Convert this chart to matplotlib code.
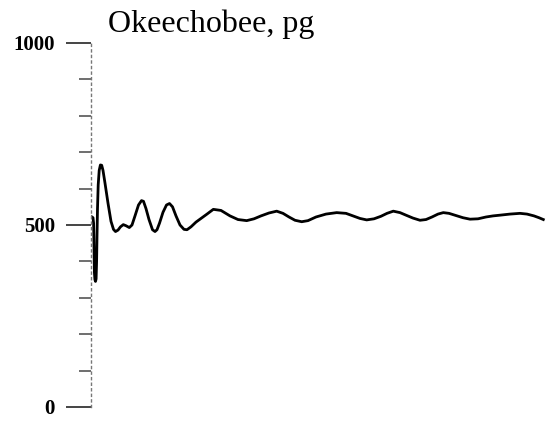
import matplotlib
import matplotlib.pyplot as plt
from matplotlib.ticker import MultipleLocator

matplotlib.use("Agg")

# time axis is unlabeled in the original
t = [1.0, 2.0, 2.6, 3.0, 3.4, 3.9, 4.5, 5.1, 5.6, 6.0, 6.5, 7.2, 8.2, 9.4, 10.7,
     12.0, 14.0, 17.0, 20.0, 22.5, 24.5, 27.0, 29.5, 32.3, 35.0, 38.3, 41.0,
     44.0, 47.5, 50.5, 52.5, 55.0, 58.0, 61.5, 64.0, 66.0, 68.5, 72.0, 75.5,
     78.5, 81.5, 85.0, 89.0, 93.0, 96.0, 100.0, 105.0, 110.0, 116.0, 122.3,
     130.0, 139.0, 147.0, 155.7, 163.0, 170.0, 178.0, 185.7, 192.0, 198.0,
     204.0, 210.7, 217.0, 225.0, 235.0, 245.7, 255.0, 262.0, 269.0, 275.7,
     283.0, 290.0, 296.0, 302.3, 309.0, 315.0, 322.0, 329.0, 335.0, 341.0,
     347.0, 352.3, 358.0, 365.0, 372.0, 379.0, 387.0, 395.0, 402.0, 409.0,
     419.0, 429.0, 436.0, 443.0, 448.0, 452.3]
pg = [522, 520, 505, 440, 370, 350, 345, 352, 400, 470, 545, 610, 650, 665,
      664, 650, 615, 560, 510, 488, 482, 486, 495, 501, 498, 493, 500, 525,
      555, 567, 565, 545, 515, 487, 482, 487, 505, 535, 555, 559, 550, 525,
      500, 488, 487, 495, 508, 518, 530, 543, 540, 525, 515, 512, 517, 525,
      533, 538, 532, 522, 513, 509, 512, 522, 530, 534, 532, 525, 518, 514,
      517, 524, 532, 538, 534, 527, 519, 513, 515, 522, 530, 534, 532, 526,
      520, 516, 517, 522, 525, 527, 530, 532, 530, 525, 520, 515]

y_ticks = [0, 500, 1000]
y_labels = ["0", "500", "1000"]
title = "Okeechobee, pg"

plt.rcParams["font.family"] = ["Liberation Serif", "DejaVu Serif"]

fig = plt.figure(figsize=(5.47, 4.22), dpi=100)
ax = fig.add_axes([91 / 547, 1 - 407 / 422, 455 / 547, 364 / 422])

ax.plot(t, pg, color="black", linewidth=2.0, solid_joinstyle="round")

ax.set_xlim(0, 455)
ax.set_ylim(0, 1000)

for side in ("top", "right", "bottom"):
    ax.spines[side].set_visible(False)
ax.spines["left"].set_color("#777777")
ax.spines["left"].set_linestyle((0, (1.5, 2.5)))
ax.spines["left"].set_linewidth(1.0)

ax.set_xticks([])
ax.set_yticks(y_ticks)
ax.set_yticklabels(y_labels, fontsize=15, fontweight="bold")
ax.yaxis.set_minor_locator(MultipleLocator(100))
ax.tick_params(axis="y", which="major", length=18, width=1.4, color="#444444", pad=8)
ax.tick_params(axis="y", which="minor", length=9, width=1.2, color="#555555")

fig.text(108 / 547, 1 - 32 / 422, title, fontsize=23, ha="left", va="baseline")

fig.savefig("out.png", dpi=100, facecolor="white")
plt.close(fig)
